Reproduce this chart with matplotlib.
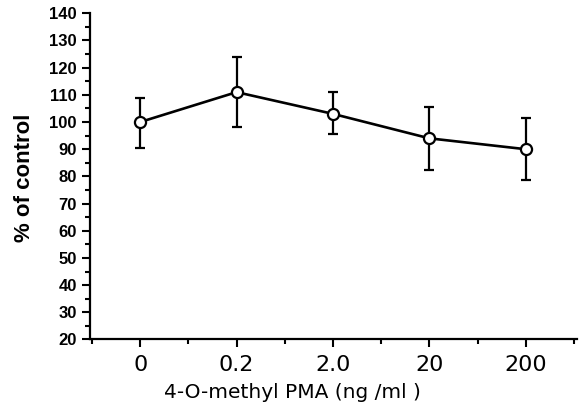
import numpy as np
import matplotlib.pyplot as plt
from matplotlib.ticker import MultipleLocator, FixedLocator

# data
doses = ["0", "0.2", "2.0", "20", "200"]
pct_control = [100, 111, 103, 94, 90]
err_upper = [9, 13, 8, 11.5, 11.5]
err_lower = [9.5, 13, 7.5, 11.5, 11.5]

fig = plt.figure(figsize=(5.85, 4.16), dpi=100)
ax = fig.add_axes([0.154, 0.184, 0.832, 0.784])

x = np.arange(len(doses))
ax.errorbar(x, pct_control, yerr=[err_lower, err_upper], color="black",
            lw=1.9, elinewidth=1.6, capsize=3.5, capthick=1.6,
            marker="o", ms=8, mfc="white", mec="black", mew=1.6, zorder=3)

ax.set_xlim(-0.52, 4.53)
ax.set_ylim(20, 140)

ax.spines["top"].set_visible(False)
ax.spines["right"].set_visible(False)
ax.spines["left"].set_linewidth(1.6)
ax.spines["bottom"].set_linewidth(1.6)

ax.set_xticks(x, labels=doses)
ax.xaxis.set_minor_locator(FixedLocator(np.arange(-0.5, 4.6, 1.0)))
ax.yaxis.set_major_locator(MultipleLocator(10))
ax.yaxis.set_minor_locator(MultipleLocator(5))
ax.tick_params(axis="both", which="major", direction="out", length=6, width=1.5)
ax.tick_params(axis="both", which="minor", direction="out", length=3.5, width=1.5)
ax.tick_params(axis="x", pad=5)

for lab in ax.get_yticklabels():
    lab.set_fontfamily("Liberation Sans")
    lab.set_fontweight("bold")
    lab.set_fontsize(12)
for lab in ax.get_xticklabels():
    lab.set_fontfamily("DejaVu Sans")
    lab.set_fontsize(16)

ax.set_xlabel("4-O-methyl PMA (ng /ml )", fontfamily="DejaVu Sans",
              fontsize=14.5, labelpad=8)
ax.xaxis.set_label_coords(0.415, -0.135)
ax.set_ylabel("% of control", fontfamily="Liberation Sans",
              fontweight="bold", fontsize=16)
ax.yaxis.set_label_coords(-0.113, 0.495)

fig.savefig("out.png", dpi=100)
